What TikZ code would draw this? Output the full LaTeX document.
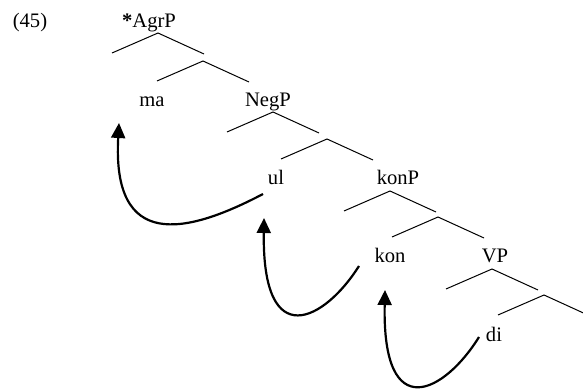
\documentclass[tikz,border=0pt]{standalone}
\usepackage{fontspec}
\setmainfont{Liberation Serif}
\usetikzlibrary{arrows.meta}

\begin{document}
\begin{tikzpicture}[x=0.5pt,y=0.5pt,yscale=-1,
    word/.style={anchor=base,inner sep=0pt,font=\fontsize{10.3}{12}\selectfont},
    branch/.style={line width=0.5pt},
    move/.style={line width=1.1pt,-{Triangle[length=7.5pt,width=7pt]}}]
    \useasboundingbox (0,0) rectangle (583,389);
    \clip (0,0) rectangle (583,389);

    % Text Nodes
    \node[word] (ex)   at (30,28)  {(45)};
    \node[word] (agrp) at (149,28) {\textbf{*}AgrP};
    \node[word] (ma)   at (152,107) {ma};
    \node[word] (negp) at (268,107) {NegP};
    \node[word] (ul)   at (276,185) {ul};
    \node[word] (konp) at (398,185) {konP};
    \node[word] (kon)  at (390,263) {kon};
    \node[word] (vp)   at (495,263) {VP};
    \node[word] (di)   at (494,342) {di};

    % Branches: one pair of lines under each apex
    \foreach \x/\y [count=\i] in {158/33, 203/61, 273/112, 327/139, 390/191, 438/217, 492/269, 544/295} {
        \coordinate (t\i) at (\x,\y);
        \draw[branch] ([shift={(-46,20)}]t\i) -- (t\i) -- ([shift={(46,21)}]t\i);
    }

    % Movement arrows
    \coordinate (ul-out)  at (263,194);
    \coordinate (ma-in)   at (119,123);
    \coordinate (kon-out) at (359,266);
    \coordinate (ul-in)   at (264,218);
    \coordinate (di-out)  at (479,337);
    \coordinate (kon-in)  at (385,290);

    \draw[move] (ul-out) .. controls (185,235) and (112,250) .. (ma-in);
    \draw[move] (kon-out) .. controls (325,320) and (262,355) .. (ul-in);
    \draw[move] (di-out) .. controls (445,392) and (382,427) .. (kon-in);

\end{tikzpicture}
\end{document}
